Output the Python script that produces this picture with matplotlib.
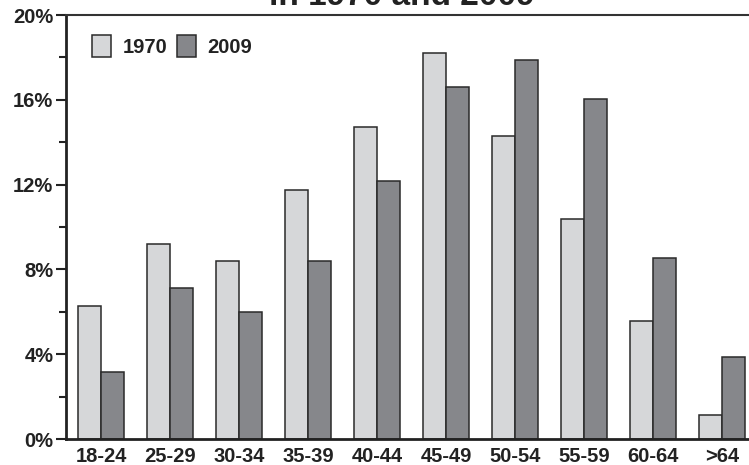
import matplotlib
matplotlib.use("Agg")
import matplotlib.pyplot as plt
import numpy as np
from matplotlib.ticker import MultipleLocator, FuncFormatter

plt.rcParams['font.family'] = ['Liberation Sans', 'DejaVu Sans']

categories = ["18-24", "25-29", "30-34", "35-39", "40-44", "45-49", "50-54", "55-59", "60-64", ">64"]
values_1970 = [6.27, 9.2, 8.4, 11.75, 14.7, 18.2, 14.3, 10.38, 5.57, 1.13]
values_2009 = [3.16, 7.12, 5.99, 8.4, 12.17, 16.6, 17.88, 16.04, 8.54, 3.87]
yticks = [0, 4, 8, 12, 16, 20]

fig = plt.figure(figsize=(7.49, 4.65), dpi=100)
ax = fig.add_axes([0.0881, 0.0559, 0.9119, 0.9118])

x = np.arange(len(categories))
w = 0.33
ax.bar(x - w / 2, values_1970, w, color="#d6d7d9", edgecolor="#2a2a2a", linewidth=1.1, label="1970")
ax.bar(x + w / 2, values_2009, w, color="#86878b", edgecolor="#2a2a2a", linewidth=1.1, label="2009")

ax.set_xlim(-0.51, 9.39)
ax.set_ylim(0, 20)
ax.set_xticks(x)
ax.set_xticklabels(categories, fontsize=14.5, fontweight="bold", color="#222222")
ax.set_yticks(yticks)
ax.yaxis.set_major_formatter(FuncFormatter(lambda v, p: f"{int(v)}%"))
ax.yaxis.set_minor_locator(MultipleLocator(2))
for lab in ax.get_yticklabels():
    lab.set_fontsize(14.5)
    lab.set_fontweight("bold")
    lab.set_color("#222222")
ax.tick_params(axis="y", which="major", length=7, width=1.5, color="#222222", pad=2)
ax.tick_params(axis="y", which="minor", length=5, width=1.5, color="#222222")
ax.tick_params(axis="x", length=0, pad=6)

for s in ["left", "bottom"]:
    ax.spines[s].set_linewidth(2)
    ax.spines[s].set_color("#222222")
ax.spines["top"].set_linewidth(1.5)
ax.spines["top"].set_color("#333333")
ax.spines["right"].set_visible(False)

leg = ax.legend(loc="upper left", frameon=False, ncol=2, prop={"weight": "bold", "size": 14.5},
                handlelength=0.95, handleheight=1.25, handletextpad=0.55, columnspacing=0.5,
                bbox_to_anchor=(0.012, 0.995))
for t in leg.get_texts():
    t.set_color("#222222")

fig.text(0.537, 0.975, "in 1970 and 2009", ha="center", va="bottom", fontsize=24, fontweight="bold", color="#222222")

fig.savefig("out.png", dpi=100)
